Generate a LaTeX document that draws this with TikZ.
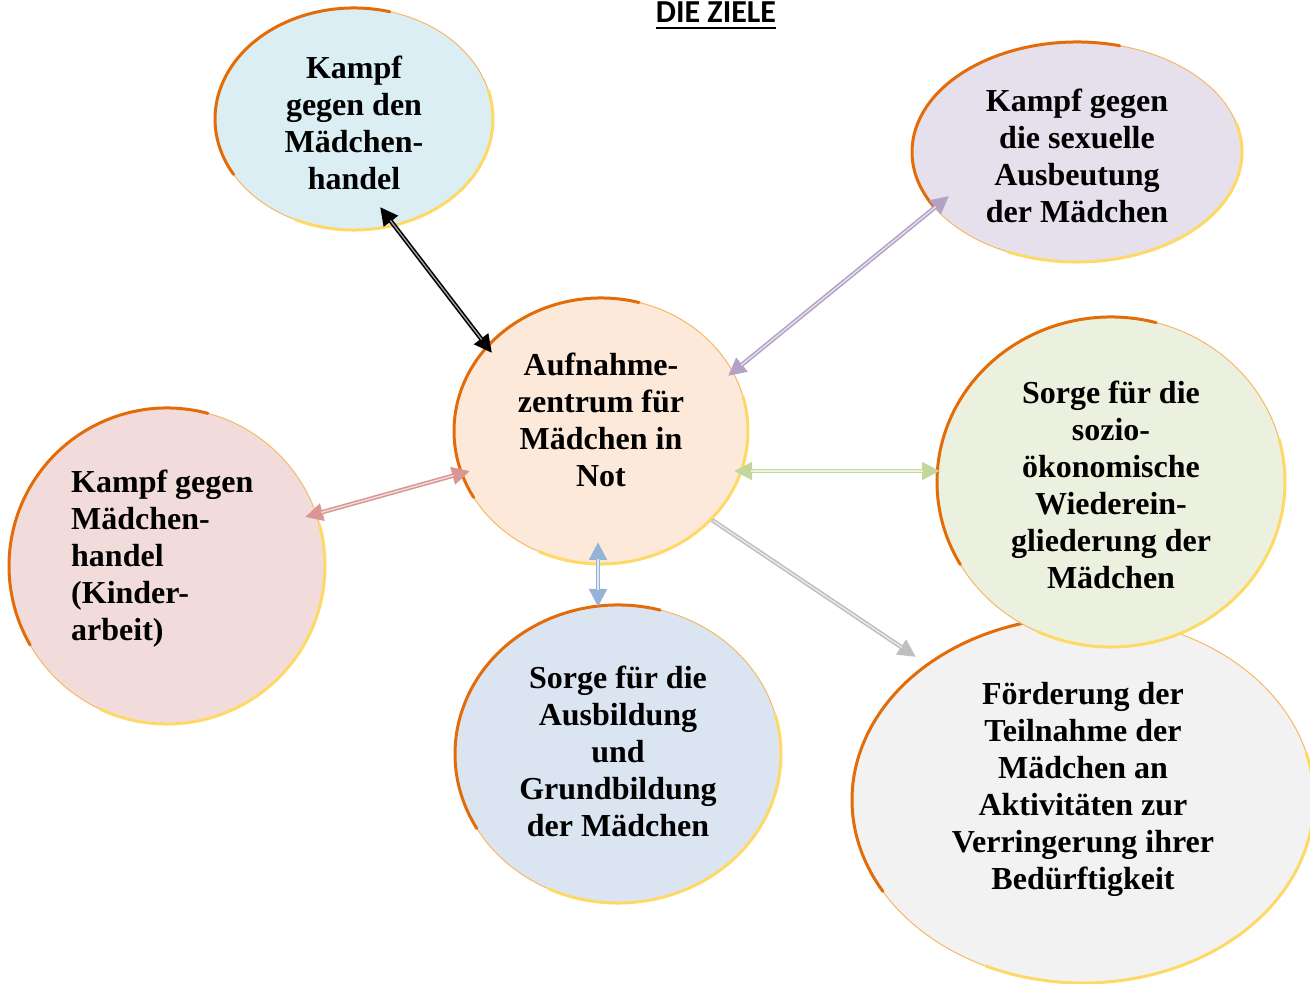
\documentclass[tikz,border=0pt]{standalone}
\usepackage{fontspec}
\setmainfont{Liberation Serif}
\newfontfamily\carlito{Carlito}
\usetikzlibrary{arrows.meta,shapes.geometric,calc}
\definecolor{borderorange}{HTML}{E36C09}
\definecolor{borderyellow}{HTML}{FFD966}
\definecolor{bordermid}{HTML}{F7B866}
\definecolor{fillA}{HTML}{DAEEF3}
\definecolor{fillB}{HTML}{E5E0EC}
\definecolor{fillC}{HTML}{FDE9D9}
\definecolor{fillD}{HTML}{F2DCDB}
\definecolor{fillE}{HTML}{EBF1DE}
\definecolor{fillF}{HTML}{DBE5F1}
\definecolor{fillG}{HTML}{F2F2F2}
\definecolor{arrPurple}{HTML}{B3A2C7}
\definecolor{arrPink}{HTML}{D99694}
\definecolor{arrGreen}{HTML}{C3D69B}
\definecolor{arrBlue}{HTML}{95B3D7}
\definecolor{arrGray}{HTML}{BFBFBF}
\tikzset{
  goal/.style={ellipse, inner sep=0pt, draw=bordermid, line width=1pt},
  oline/.style={draw=borderorange, line width=3pt, line cap=round},
  yline/.style={draw=borderyellow, line width=3pt, line cap=round},
  goaltext/.style={font=\fontsize{32}{37}\selectfont\bfseries, align=center, inner sep=0pt},
  linkouter/.style={line width=4.4pt, >={Triangle[length=18pt 0,width=17pt 0]}},
  linkinner/.style={line width=1.3pt, shorten <=#1, shorten >=17pt},
  linkinner/.default=17pt,
}
\newcommand\goalshape[6]{%
  \node[goal, fill=#6, minimum width={2*#4pt}, minimum height={2*#5pt}] (#1) at (#2,#3) {};
  \draw[oline] (#1.center) ++(75:#4 and #5) arc[start angle=75, end angle=210, x radius=#4, y radius=#5];
  \draw[yline] (#1.center) ++(-115:#4 and #5) arc[start angle=-115, end angle=15, x radius=#4, y radius=#5];
}
% #1 colour, #2 inner colour, #3 from, #4 to, #5 arrows, #6 start shortening
\newcommand\conn[6]{%
  \draw[linkouter, draw=#1, fill=#1, #5] #3 -- #4;
  \draw[linkinner=#6, draw=#2] #3 -- #4;
}
\begin{document}
\begin{tikzpicture}[x=1pt,y=1pt]
\useasboundingbox (0,0) rectangle (1310,984);
\fill[white] (0,0) rectangle (1310,984);
% ellipses
\goalshape{G}{1083}{184}{231}{183}{fillG}
\goalshape{A}{354}{865}{139}{111}{fillA}
\goalshape{B}{1077}{832}{165}{110}{fillB}
\goalshape{C}{601}{553}{147}{133}{fillC}
\goalshape{D}{167}{418}{158}{158}{fillD}
\goalshape{E}{1111}{502}{174}{165}{fillE}
\goalshape{F}{618}{230}{163}{149}{fillF}
% title
\node[font=\fontsize{32}{37}\selectfont\bfseries\carlito, anchor=base, inner sep=0pt] (title) at (716,961) {DIE ZIELE};
\draw[line width=2.6pt] ($(title.base west)+(0,-5)$) -- ($(title.base east)+(0,-5)$);
% connectors
\conn{black}{gray!70}{($(A)+(26,-88)$)}{($(C)+(-109,78)$)}{<->}{17pt}
\conn{arrPurple}{arrPurple!30}{($(B)+(-128,-44)$)}{($(C)+(127,55)$)}{<->}{17pt}
\conn{arrPink}{arrPink!30}{($(D)+(138,49)$)}{($(C)+(-131,-40)$)}{<->}{17pt}
\conn{arrGreen}{arrGreen!30}{($(C)+(133,-40)$)}{($(E)+(-171,11)$)}{<->}{17pt}
\conn{arrBlue}{arrBlue!30}{($(C)+(-3,-111)$)}{($(F)+(-20,147)$)}{<->}{17pt}
\conn{arrGray}{arrGray!30}{($(C)+(111,-89)$)}{($(G)+(-167,143)$)}{->}{1pt}
% texts
\node[goaltext] (tA) at (354,861) {Kampf\\gegen den\\Mädchen-\\handel};
\node[goaltext] (tB) at (1077,828) {Kampf gegen\\die sexuelle\\Ausbeutung\\der Mädchen};
\node[goaltext] (tC) at (601,564) {Aufnahme-\\zentrum für\\Mädchen in\\Not};
\node[goaltext, align=left, anchor=west] (tD) at (71,425) {Kampf gegen\\Mädchen-\\handel\\(Kinder-\\arbeit)};
\node[goaltext] (tE) at (1111,499) {Sorge für die\\sozio-\\ökonomische\\Wiederein-\\gliederung der\\Mädchen};
\node[goaltext] (tF) at (618,233) {Sorge für die\\Ausbildung\\und\\Grundbildung\\der Mädchen};
\node[goaltext] (tG) at (1083,195) {Förderung der\\Teilnahme der\\Mädchen an\\Aktivitäten zur\\Verringerung ihrer\\Bedürftigkeit};
\end{tikzpicture}
\end{document}
